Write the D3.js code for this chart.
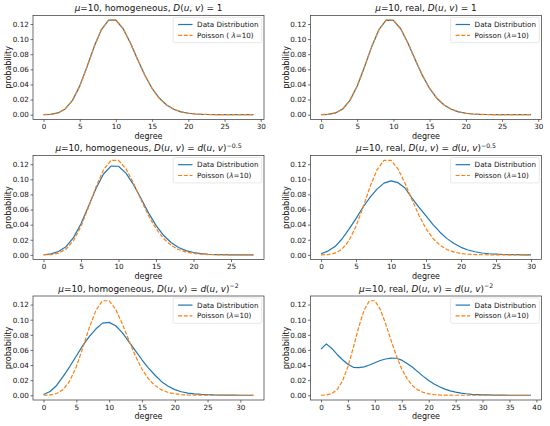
<!DOCTYPE html>
<html>
<head>
<meta charset="utf-8">
<script src="https://cdn.jsdelivr.net/npm/d3@7"></script>
<style>
  body { margin: 0; background: #fff; }
  svg { display: block; }
  text { font-family: "DejaVu Sans", sans-serif; fill: #111; }
</style>
</head>
<body>
<div class="canvas"></div>
<script>
// Poisson(lambda=10) probabilities, degree 0..39
const poisson = [
  0.0000454, 0.000454, 0.00227, 0.00757, 0.01892, 0.03783, 0.06306, 0.09008, 0.1126, 0.12511,
  0.12511, 0.11374, 0.09478, 0.07291, 0.05208, 0.03472, 0.0217, 0.01276, 0.00709, 0.00373,
  0.00187, 0.00089, 0.0004, 0.00018, 0.000073, 0.000029, 0.0000113, 0.0000042, 0.0000015, 0.0000005,
  0.00000017, 0.000000055, 0.000000017, 0.000000005, 0.0000000015, 0.0000000004, 0.0000000001, 0, 0, 0
];

// data distributions
const homConst = [
  0.0000, 0.0005, 0.0023, 0.0076, 0.0189, 0.0378, 0.0630, 0.0901, 0.1126, 0.1251,
  0.1250, 0.1137, 0.0948, 0.0729, 0.0521, 0.0347, 0.0217, 0.0128, 0.0071, 0.0037,
  0.0019, 0.0009, 0.0004, 0.0002, 0.0001, 0.0000, 0.0000, 0.0000, 0.0000, 0.0000
];
const realConst = [
  0.0000, 0.0005, 0.0023, 0.0075, 0.0189, 0.0379, 0.0631, 0.0900, 0.1125, 0.1251,
  0.1249, 0.1137, 0.0949, 0.0730, 0.0520, 0.0347, 0.0217, 0.0128, 0.0071, 0.0037,
  0.0019, 0.0009, 0.0004, 0.0002, 0.0001, 0.0000, 0.0000, 0.0000, 0.0000, 0.0000
];
const homHalf = [
  0.0002, 0.0013, 0.0045, 0.0108, 0.0228, 0.0412, 0.0642, 0.0878, 0.1070, 0.1175,
  0.1173, 0.1082, 0.0930, 0.0745, 0.0556, 0.0390, 0.0259, 0.0163, 0.0098, 0.0056,
  0.0031, 0.0016, 0.0008, 0.0004, 0.0002, 0.0001, 0.00005, 0.00002, 0.00001
];
const realHalf = [
  0.0015, 0.0050, 0.0110, 0.0210, 0.0340, 0.0480, 0.0630, 0.0760, 0.0870, 0.0950,
  0.0980, 0.0955, 0.0885, 0.0750, 0.0630, 0.0515, 0.0400, 0.0300, 0.0215, 0.0150,
  0.0100, 0.0065, 0.0041, 0.0025, 0.0015, 0.0009, 0.0005, 0.0003, 0.0002, 0.0001,
  0.00005
];
const homSquare = [
  0.0010, 0.0050, 0.0130, 0.0250, 0.0380, 0.0520, 0.0660, 0.0780, 0.0880, 0.0955,
  0.0965, 0.0920, 0.0830, 0.0710, 0.0590, 0.0470, 0.0360, 0.0265, 0.0180, 0.0120,
  0.0075, 0.0047, 0.0029, 0.0018, 0.0011, 0.0007, 0.0004, 0.0003, 0.0002, 0.0001,
  0.00006, 0.00003, 0.00002
];
const realSquare = [
  0.0610, 0.0680, 0.0620, 0.0540, 0.0470, 0.0410, 0.0370, 0.0365, 0.0375, 0.0400,
  0.0430, 0.0460, 0.0480, 0.0492, 0.0490, 0.0465, 0.0420, 0.0370, 0.0310, 0.0250,
  0.0195, 0.0150, 0.0112, 0.0082, 0.0059, 0.0042, 0.0029, 0.0020, 0.0013, 0.0009,
  0.0006, 0.0004, 0.00025, 0.00015, 0.0001, 0.00006, 0.00004, 0.00002, 0.00001, 0.00001
];

const yTicks = [0, 0.02, 0.04, 0.06, 0.08, 0.10, 0.12];
const xTicks30 = [0, 5, 10, 15, 20, 25, 30];
const xTicks25 = [0, 5, 10, 15, 20, 25];
const xTicks40 = [0, 5, 10, 15, 20, 25, 30, 35, 40];

// title pieces: [text, style]  (i = italic, sup = superscript)
const titles = [
  [["μ", "i"], ["=10, homogeneous, "], ["D", "i"], ["("], ["u", "i"], [", "], ["v", "i"], [") = 1"]],
  [["μ", "i"], ["=10, real, "], ["D", "i"], ["("], ["u", "i"], [", "], ["v", "i"], [") = 1"]],
  [["μ", "i"], ["=10, homogeneous, "], ["D", "i"], ["("], ["u", "i"], [", "], ["v", "i"], [") = "], ["d", "i"], ["("], ["u", "i"], [", "], ["v", "i"], [")"], ["−0.5", "sup"]],
  [["μ", "i"], ["=10, real, "], ["D", "i"], ["("], ["u", "i"], [", "], ["v", "i"], [") = "], ["d", "i"], ["("], ["u", "i"], [", "], ["v", "i"], [")"], ["−0.5", "sup"]],
  [["μ", "i"], ["=10, homogeneous, "], ["D", "i"], ["("], ["u", "i"], [", "], ["v", "i"], [") = "], ["d", "i"], ["("], ["u", "i"], [", "], ["v", "i"], [")"], ["−2", "sup"]],
  [["μ", "i"], ["=10, real, "], ["D", "i"], ["("], ["u", "i"], [", "], ["v", "i"], [") = "], ["d", "i"], ["("], ["u", "i"], [", "], ["v", "i"], [")"], ["−2", "sup"]]
];
const dataLabel = [["Data Distribution"]];
const poissonLabelWide = [["Poisson ( "], ["λ", "i"], ["=10)"]];
const poissonLabel = [["Poisson ("], ["λ", "i"], ["=10)"]];

const panels = [
  { data: homConst, xTicks: xTicks30, legend: poissonLabelWide },
  { data: realConst, xTicks: xTicks30, legend: poissonLabel },
  { data: homHalf, xTicks: xTicks25, legend: poissonLabel },
  { data: realHalf, xTicks: xTicks30, legend: poissonLabel },
  { data: homSquare, xTicks: xTicks30, legend: poissonLabel },
  { data: realSquare, xTicks: xTicks40, legend: poissonLabel }
];

const width = 550, height = 426;
const colLeft = [33, 310.5];
const rowTop = [15.4, 155.6, 296.0];
const plotW = 231, plotH = 104;
const blue = "#1f77b4", orange = "#ff7f0e";

const svg = d3.select(".canvas")
  .append("svg")
  .attr("width", width)
  .attr("height", height);

const addPieces = (textSel, pieces, supSize) => {
  pieces.forEach(([str, style]) => {
    const t = textSel.append("tspan").text(str);
    if (style === "i") t.attr("font-style", "oblique");
    if (style === "sup") t.attr("font-size", supSize).attr("dy", "-0.55em");
  });
};

panels.forEach((p, i) => {
  const left = colLeft[i % 2];
  const top = rowTop[Math.floor(i / 2)];
  const n = p.data.length - 1;
  const pois = poisson.slice(0, n + 1);
  const degrees = d3.range(n + 1);

  const g = svg.append("g").attr("transform", `translate(${left},${top})`);

  //scales with matplotlib style 5% margins
  const x = d3.scaleLinear().domain([-0.05 * n, 1.05 * n]).range([0, plotW]);
  const all = p.data.concat(pois);
  const lo = d3.min(all), hi = d3.max(all);
  const pad = (hi - lo) * 0.05;
  const y = d3.scaleLinear().domain([lo - pad, hi + pad]).range([plotH, 0]);

  //axes
  const xAxis = d3.axisBottom(x).tickValues(p.xTicks).tickSize(2.5).tickPadding(2.0);
  const yAxis = d3.axisLeft(y).tickValues(yTicks).tickFormat(d3.format(".2f")).tickSize(2.5).tickPadding(1.7);

  const xg = g.append("g").attr("transform", `translate(0,${plotH})`).call(xAxis);
  const yg = g.append("g").call(yAxis);
  [xg, yg].forEach((ag) => {
    ag.select(".domain").remove();
    ag.selectAll("line").attr("stroke", "#222").attr("stroke-width", 0.65);
    ag.selectAll("text")
      .attr("font-size", 7.2)
      .attr("font-family", "DejaVu Sans")
      .attr("fill", "#111");
  });

  //lines
  const line = d3.line()
    .x((d, k) => x(degrees[k]))
    .y((d) => y(d));

  g.append("path")
    .datum(p.data)
    .attr("fill", "none")
    .attr("stroke", blue)
    .attr("stroke-width", 1.2)
    .attr("stroke-linejoin", "round")
    .attr("d", line);

  g.append("path")
    .datum(pois)
    .attr("fill", "none")
    .attr("stroke", orange)
    .attr("stroke-width", 1.2)
    .attr("stroke-dasharray", "4,1.7")
    .attr("d", line);

  //frame
  g.append("rect")
    .attr("width", plotW)
    .attr("height", plotH)
    .attr("fill", "none")
    .attr("stroke", "#333")
    .attr("stroke-width", 0.7);

  //title
  const title = g.append("text")
    .attr("x", plotW / 2)
    .attr("y", -4.2)
    .attr("text-anchor", "middle")
    .attr("font-size", 8.9);
  addPieces(title, titles[i], 6.2);

  //axis labels
  g.append("text")
    .attr("x", plotW / 2)
    .attr("y", plotH + 19.2)
    .attr("text-anchor", "middle")
    .attr("font-size", 8)
    .text("degree");

  g.append("text")
    .attr("transform", `translate(-21.8,${plotH / 2}) rotate(-90)`)
    .attr("text-anchor", "middle")
    .attr("font-size", 8)
    .text("probability");

  //legend
  const lg = g.append("g");
  const box = lg.append("rect")
    .attr("rx", 1.5)
    .attr("fill", "#fff")
    .attr("fill-opacity", 0.8)
    .attr("stroke", "#d6d6d6")
    .attr("stroke-width", 0.6);

  const entries = [
    { label: dataLabel, color: blue, dash: null },
    { label: p.legend, color: orange, dash: "4,1.7" }
  ];
  let maxLen = 0;
  entries.forEach((e, k) => {
    const cy = 7.2 + k * 10.8;
    lg.append("line")
      .attr("x1", 5).attr("x2", 19.4)
      .attr("y1", cy).attr("y2", cy)
      .attr("stroke", e.color)
      .attr("stroke-width", 1.2)
      .attr("stroke-dasharray", e.dash);
    const t = lg.append("text")
      .attr("x", 24)
      .attr("y", cy)
      .attr("dy", "0.35em")
      .attr("font-size", 7.2);
    addPieces(t, e.label, 5);
    maxLen = Math.max(maxLen, t.node().getComputedTextLength());
  });
  const boxW = 24 + maxLen + 3.2;
  box.attr("width", boxW).attr("height", 25.4);
  lg.attr("transform", `translate(${plotW - 2.3 - boxW},1.9)`);
});
</script>
</body>
</html>
